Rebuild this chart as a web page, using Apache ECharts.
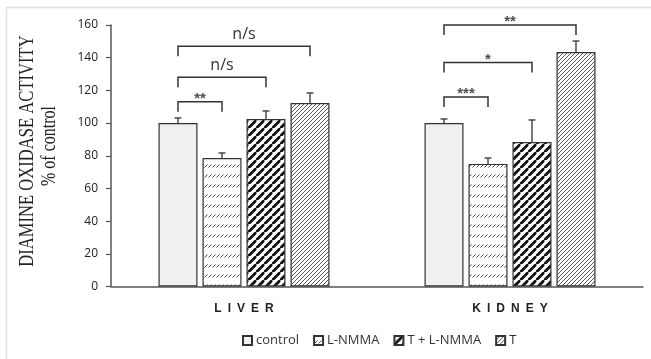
<!DOCTYPE html>
<html>
<head>
<meta charset="utf-8">
<script src="https://cdn.jsdelivr.net/npm/echarts@6/dist/echarts.min.js"></script>
<style>
  html, body { margin: 0; padding: 0; background: #fff; }
  #chart { width: 651px; height: 359px; }
</style>
</head>
<body>
<div id="chart"></div>
<script>
// data
const categories = ['LIVER', 'KIDNEY']
const seriesNames = ['control', 'L-NMMA', 'T + L-NMMA', 'T']
const controlVals = [100, 100]
const lnmmaVals = [78.6, 75.0]
const tLnmmaVals = [102.5, 88.4]
const tVals = [112.3, 143.5]
// upper error (sd) per series
const controlErr = [3.1, 2.5]
const lnmmaErr = [3.1, 3.6]
const tLnmmaErr = [4.9, 13.5]
const tErr = [6.1, 6.7]
const yTicks = { min: 0, max: 160, interval: 20 }
// significance brackets: [category, from series, to series, level]
const brackets = [
    [0, 0, 1, 113], [0, 0, 2, 128], [0, 0, 3, 147],
    [1, 0, 1, 116], [1, 0, 2, 137], [1, 0, 3, 160]
]
const bracketLabels = ['**', 'n/s', 'n/s', '***', '*', '**']

const BAR_W = 39
const BAR_GAP = 5

// hatch tiles
function tile (w, h, draw) {
    const c = document.createElement('canvas')
    c.width = w
    c.height = h
    const ctx = c.getContext('2d')
    ctx.fillStyle = '#fff'
    ctx.fillRect(0, 0, w, h)
    draw(ctx)
    return { image: c, repeat: 'repeat' }
}
function diag (s, color, lw) {
    return tile(s, s, ctx => {
        ctx.strokeStyle = color
        ctx.lineWidth = lw
        ctx.beginPath()
        for (let k = -1; k <= 1; k++) {
            ctx.moveTo(k * s, s)
            ctx.lineTo(k * s + s, 0)
        }
        ctx.stroke()
    })
}
const fills = [
    '#f0f0f0',
    tile(4, 10, ctx => {
        ctx.strokeStyle = '#444'
        ctx.lineWidth = 1
        ctx.beginPath()
        ctx.moveTo(0.5, 7.5)
        ctx.lineTo(3.5, 4.5)
        ctx.stroke()
    }),
    diag(8.5, '#111', 2.8),
    diag(4, '#444', 0.9)
]
const values = [controlVals, lnmmaVals, tLnmmaVals, tVals]
const errors = [controlErr, lnmmaErr, tLnmmaErr, tErr]

const errData = []
values.forEach((vals, s) => {
    vals.forEach((v, c) => errData.push([c, v, errors[s][c], s]))
})

const offsetOf = s => (s - 1.5) * (BAR_W + BAR_GAP)

const renderError = (params, api) => {
    const c = api.value(0)
    const mean = api.value(1)
    const err = api.value(2)
    const s = api.value(3)
    const base = api.coord([c, mean])
    const top = api.coord([c, mean + err])
    const x = base[0] + offsetOf(s)
    const st = { stroke: '#333', lineWidth: 1.3 }
    return {
        type: 'group',
        children: [
            { type: 'line', shape: { x1: x, y1: base[1], x2: x, y2: top[1] }, style: st },
            { type: 'line', shape: { x1: x - 3.5, y1: top[1], x2: x + 3.5, y2: top[1] }, style: st }
        ]
    }
}

const renderBracket = (params, api) => {
    const c = api.value(0)
    const p = api.coord([c, api.value(3)])
    const x1 = p[0] + offsetOf(api.value(1))
    const x2 = p[0] + offsetOf(api.value(2))
    const y = p[1]
    const label = bracketLabels[params.dataIndex]
    const star = label.indexOf('*') >= 0
    const st = { stroke: '#333', lineWidth: 1.5, fill: null }
    return {
        type: 'group',
        children: [
            { type: 'polyline', shape: { points: [[x1, y + 10], [x1, y], [x2, y], [x2, y + 10]] }, style: st },
            {
                type: 'text',
                x: (x1 + x2) / 2,
                y: star ? y - 3 : y - 12,
                style: {
                    text: label,
                    align: 'center',
                    verticalAlign: 'middle',
                    fill: star ? '#4a5060' : '#333',
                    font: star ? 'bold 15px "Liberation Sans"' : '16px "Open Sans"'
                }
            }
        ]
    }
}

const chart = echarts.init(document.getElementById('chart'), null, { renderer: 'canvas' })

const option = {
    animation: false,
    backgroundColor: '#fff',
    grid: { left: 111, right: 8, top: 25, bottom: 72.5 },
    legend: {
        data: seriesNames,
        icon: 'rect',
        left: 242,
        top: 334,
        padding: 0,
        itemWidth: 9,
        itemHeight: 9,
        itemGap: 14,
        textStyle: { fontFamily: 'Open Sans', fontSize: 13, color: '#333', padding: [0, 0, 0, -1] }
    },
    xAxis: {
        type: 'category',
        data: categories,
        axisTick: { show: false },
        axisLine: { lineStyle: { color: '#555', width: 1.5 } },
        axisLabel: {
            margin: 16,
            fontFamily: 'Liberation Sans',
            fontWeight: 'bold',
            fontSize: 12,
            color: '#222',
            formatter: v => v.split('').join('\u2002')
        }
    },
    yAxis: {
        type: 'value',
        min: yTicks.min,
        max: yTicks.max,
        interval: yTicks.interval,
        splitLine: { show: false },
        axisLine: { show: true, lineStyle: { color: '#555', width: 1.5 } },
        axisTick: { show: true, length: 5, lineStyle: { color: '#555', width: 1.2 } },
        axisLabel: { margin: 13, fontFamily: 'Open Sans', fontSize: 12, color: '#222' }
    },
    graphic: [
        { type: 'line', shape: { x1: 6, y1: 7.5, x2: 651, y2: 7.5 }, style: { stroke: '#e2e2e2', lineWidth: 1.5 } },
        { type: 'line', shape: { x1: 6.5, y1: 7, x2: 6.5, y2: 359 }, style: { stroke: '#e2e2e2', lineWidth: 1.5 } },
        {
            type: 'text', x: 28, y: 151, rotation: Math.PI / 2, scaleY: 1.25,
            style: { text: 'DIAMINE OXIDASE ACTIVITY', font: '16.6px "Liberation Serif"', fill: '#222', align: 'center', verticalAlign: 'middle' }
        },
        {
            type: 'text', x: 50, y: 146, rotation: Math.PI / 2, scaleY: 1.3,
            style: { text: '% of control', font: '16px "Liberation Serif"', fill: '#222', align: 'center', verticalAlign: 'middle' }
        }
    ],
    series: seriesNames.map((name, s) => ({
        name,
        type: 'bar',
        data: values[s],
        barWidth: BAR_W,
        barGap: (BAR_GAP / BAR_W * 100) + '%',
        itemStyle: { color: fills[s], borderColor: '#333', borderWidth: 1.2 }
    })).concat([
        {
            type: 'custom',
            renderItem: renderError,
            data: errData,
            z: 3,
            silent: true
        },
        {
            type: 'custom',
            renderItem: renderBracket,
            data: brackets,
            clip: false,
            z: 3,
            silent: true
        }
    ])
}

chart.setOption(option)
</script>
</body>
</html>
